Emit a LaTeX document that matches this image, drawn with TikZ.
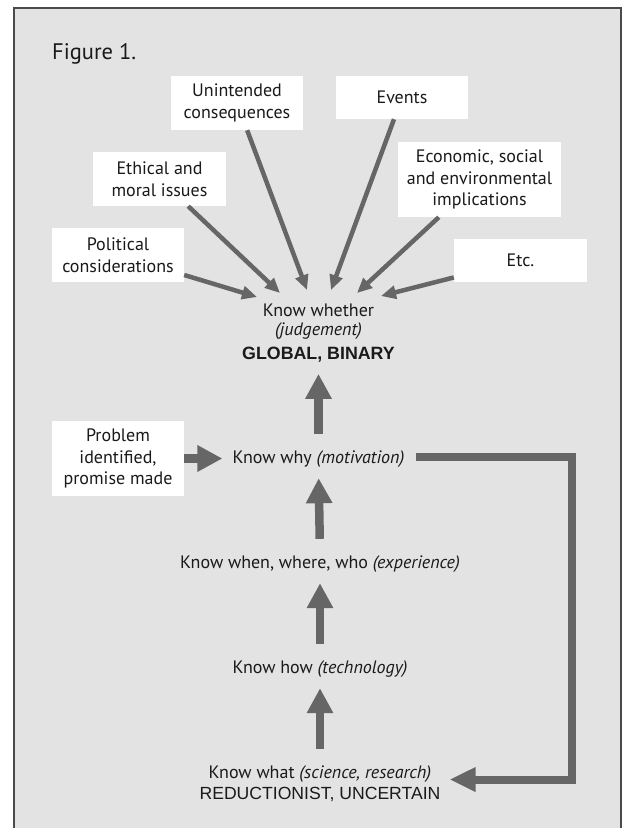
\documentclass[tikz,border=0pt]{standalone}
\usepackage{fontspec}
\setmainfont{PT Sans}
\newfontfamily\capsface{Liberation Sans}
\usetikzlibrary{arrows.meta}
\definecolor{panel}{HTML}{E3E3E3}
\definecolor{rim}{HTML}{4A4A4A}
\definecolor{ink}{HTML}{1A1A1A}
\definecolor{shaft}{HTML}{666666}

\begin{document}
\begin{tikzpicture}[x=1pt,y=-1pt,
  every node/.style={text=ink, inner sep=0pt, font=\fontsize{18}{21.5}\selectfont},
  card/.style={fill=white, align=center},
  label/.style={align=center},
  oneline/.style={anchor=base, text height=13.5pt, text depth=4.5pt},
  feed/.style={draw=shaft, line width=4.5pt, -{Triangle[length=15pt,width=13pt]}},
  climb/.style={draw=shaft, line width=8.5pt, -{Triangle[length=25pt,width=25pt]}},
  loopback/.style={draw=shaft, line width=8pt, line join=miter, -{Triangle[length=26pt,width=23pt]}}
]
\useasboundingbox (0,0) rectangle (624,828);
\clip (0,0) rectangle (624,828);

% panel
\draw[rim, fill=panel, line width=2pt] (14,8) rectangle (621,850);

\node[anchor=base west, font=\fontsize{22.5}{27}\selectfont] (fig) at (52,59) {Figure 1.};

% influences
\node[card, minimum width=132pt, minimum height=54pt] (pol) at (118,255) {Political\\considerations};
\node[card, minimum width=133pt, minimum height=54pt] (eth) at (159.5,179) {Ethical and\\moral issues};
\node[card, minimum width=132pt, minimum height=54pt] (uni) at (237,103) {Unintended\\consequences};
\node[card, minimum width=132pt, minimum height=43pt] (evt) at (402,97.5) {Events};
\node[card, minimum width=163pt, minimum height=75pt] (eco) at (479.5,179.5) {Economic, social\\and environmental\\implications};
\node[card, minimum width=133pt, minimum height=43pt] (etc) at (520.5,260.5) {Etc.};

% knowledge ladder
\node[label] (kw) at (318.5,333) {Know whether\\[-2.5pt]\textit{(judgement)}\\[2.5pt]{\capsface\bfseries\fontsize{17.8}{21.5}\selectfont GLOBAL, BINARY}};
\node[oneline] (kwhy) at (318.5,463) {Know why \textit{(motivation)}};
\node[oneline] (kwhen) at (320,568) {Know when, where, who \textit{(experience)}};
\node[oneline] (khow) at (320,673) {Know how \textit{(technology)}};
\node[label] (kwhat) at (320,783.5) {Know what \textit{(science, research)}\\{\capsface\fontsize{17.6}{21.5}\selectfont REDUCTIONIST, UNCERTAIN}};

\node[card, minimum width=132pt, minimum height=75pt] (prob) at (118,458.5) {Problem\\identified,\\promise made};

% arrow tips around the judgement
\coordinate (t1) at (257,297);
\coordinate (t2) at (280,293);
\coordinate (t3) at (307,290);
\coordinate (t4) at (331,290);
\coordinate (t5) at (357,293);
\coordinate (t6) at (381,296);

\draw[feed] (pol) -- (t1);
\draw[feed] (eth) -- (t2);
\draw[feed] (uni) -- (t3);
\draw[feed] (evt) -- (t4);
\draw[feed] (eco) -- (t5);
\draw[feed] (etc) -- (t6);

% upward chain
\draw[climb, shorten <=15.5pt, shorten >=11.5pt] (kwhy.north) -- (kw.south);
\draw[climb, shorten <=15.5pt, shorten >=10.5pt] (kwhen.north) -- (kwhy.south);
\draw[climb, shorten <=15.5pt, shorten >=10.5pt] (khow.north) -- (kwhen.south);
\draw[climb, shorten <=16pt, shorten >=10.5pt] (kwhat.north) -- (khow.south);

\draw[climb, shorten >=10pt] (prob.east) -- (prob.east -| kwhy.west);

% feedback loop
\coordinate (turn) at (572,0);
\coordinate (out) at ([xshift=11pt,yshift=1.5pt]kwhy.east);
\coordinate (back) at ([xshift=9pt,yshift=4pt]kwhat.east);
\draw[loopback] (out) -- (out -| turn) -- (back -| turn) -- (back);
\end{tikzpicture}
\end{document}
